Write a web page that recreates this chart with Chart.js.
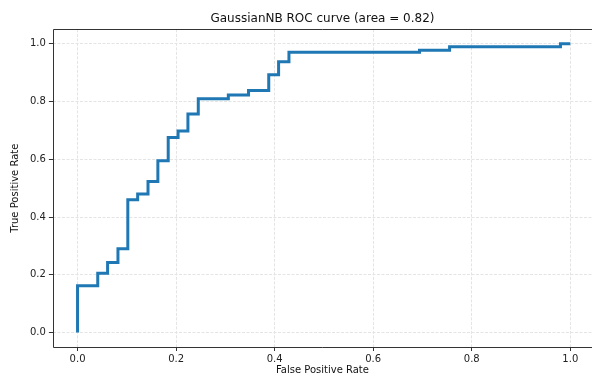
<!DOCTYPE html>
<html>
<head>
<meta charset="utf-8">
<script src="https://cdn.jsdelivr.net/npm/chart.js@4"></script>
<style>
  html, body { margin: 0; padding: 0; background: #fff; overflow: hidden; }
  #wrap { width: 592px; height: 374px; position: relative; }
</style>
</head>
<body>
<div id="wrap"><canvas id="rocChart"></canvas></div>
<script>
// ROC curve corner points
const fpr = [
  0, 0, 0.041, 0.041, 0.061, 0.061, 0.082, 0.082, 0.102, 0.102,
  0.122, 0.122, 0.143, 0.143, 0.163, 0.163, 0.184, 0.184, 0.204, 0.204,
  0.224, 0.224, 0.245, 0.245, 0.306, 0.306, 0.347, 0.347, 0.388, 0.388,
  0.408, 0.408, 0.429, 0.429, 0.694, 0.694, 0.755, 0.755, 0.98, 0.98, 1.0
];
const tpr = [
  0, 0.162, 0.162, 0.205, 0.205, 0.243, 0.243, 0.29, 0.29, 0.46,
  0.46, 0.48, 0.48, 0.523, 0.523, 0.595, 0.595, 0.676, 0.676, 0.698,
  0.698, 0.757, 0.757, 0.81, 0.81, 0.823, 0.823, 0.838, 0.838, 0.893,
  0.893, 0.938, 0.938, 0.971, 0.971, 0.978, 0.978, 0.99, 0.99, 1.0, 1.0
];
const tickValues = [0, 0.2, 0.4, 0.6, 0.8, 1.0];

const font = "DejaVu Sans";

// matplotlib-like spines; the right one is cut off in the picture
const frame = {
  id: "frame",
  afterDraw(chart) {
    const { ctx, chartArea: a } = chart;
    const l = Math.round(a.left) + 0.5;
    const t = Math.round(a.top) + 0.5;
    const b = Math.round(a.bottom) + 0.5;
    ctx.save();
    ctx.strokeStyle = "#333";
    ctx.lineWidth = 1;
    ctx.beginPath();
    ctx.moveTo(a.right, t);
    ctx.lineTo(l, t);
    ctx.lineTo(l, b);
    ctx.lineTo(a.right, b);
    ctx.stroke();
    ctx.restore();
  },
};

const axis = (title, pad, tickPad, max) => ({
  type: "linear",
  min: -0.05,
  max: max,
  afterBuildTicks: (scale) => {
    scale.ticks = tickValues.map((v) => ({ value: v }));
  },
  ticks: {
    color: "#222",
    padding: tickPad,
    font: { family: font, size: 10 },
    callback: (v) => v.toFixed(1),
  },
  grid: {
    color: "#e4e4e4",
    lineWidth: 1,
    tickLength: 4,
    tickColor: "#333",
  },
  border: { display: false, dash: [3, 1.5] },
  title: {
    display: true,
    text: title,
    color: "#111",
    font: { family: font, size: 10 },
    padding: pad,
  },
});

const ctx = document.getElementById("rocChart").getContext("2d");
const rocChart = new Chart(ctx, {
  type: "line",
  data: {
    datasets: [
      {
        data: fpr.map((x, i) => ({ x: x, y: tpr[i] })),
        borderColor: "#1f77b4",
        borderWidth: 3,
        pointRadius: 0,
        fill: false,
        tension: 0,
        borderJoinStyle: "miter",
      },
    ],
  },
  options: {
    responsive: true,
    maintainAspectRatio: false,
    animation: false,
    layout: { padding: { left: 1, right: 0, top: 0, bottom: -2 } },
    plugins: {
      legend: { display: false },
      tooltip: { enabled: false },
      title: {
        display: true,
        fullSize: false, // centre over the plot area, like matplotlib
        text: "GaussianNB ROC curve (area = 0.82)",
        color: "#111",
        font: { family: font, size: 12, weight: "normal" },
        padding: { top: 12, bottom: 3 },
      },
    },
    scales: {
      // the axes run past 1.0 to the window's right edge, as in the picture
      x: axis("False Positive Rate", { top: -3, bottom: 0 }, 2, 1.044),
      y: axis("True Positive Rate", { top: 8, bottom: 6 }, 3, 1.05),
    },
  },
  plugins: [frame],
});
</script>
</body>
</html>
